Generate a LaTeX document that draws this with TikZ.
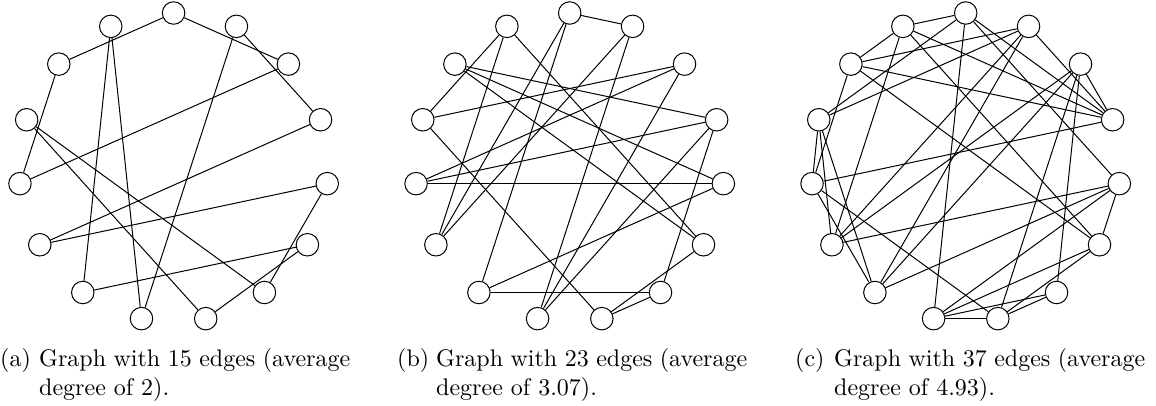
\documentclass[tikz,border=0pt]{standalone}
\usepackage{graphicx}
\begin{document}
\begin{tikzpicture}[x=1pt,y=-1pt,
  vtx/.style={circle,draw,line width=1pt,minimum size=22.5pt,inner sep=0pt},
  edg/.style={line width=1pt},
  captxt/.style={anchor=base west,inner sep=0pt}]
\useasboundingbox (0,0) rectangle (1156,405);
\foreach \g/\cx in {a/173.6,b/569.7,c/965.7}{
  \foreach \i in {0,...,14}{
    \node[vtx] (\g\i) at ({\cx+154.5*cos(90-24*\i)},{167.5-154.5*sin(90-24*\i)}) {};
  }
}
% graph (a)
\foreach \u/\v in {13/0,0/2,1/3,1/8,14/8,14/9,13/11,11/2,12/6,12/7,10/3,10/4,9/5,4/6,5/7}
  \draw[edg] (a\u) -- (a\v);
% graph (b)
\foreach \u/\v in {0/1,0/10,0/9,14/12,14/10,14/5,13/3,13/4,13/5,12/2,12/7,2/11,2/8,1/8,1/10,3/11,3/6,3/8,11/4,9/4,9/6,7/6,7/5}
  \draw[edg] (b\u) -- (b\v);
% graph (c)
\foreach \u/\v in {14/0,14/13,14/10,14/3,14/5,13/1,13/3,13/5,13/11,12/1,12/11,12/10,12/9,11/3,11/9,11/7,10/1,10/2,10/4,9/1,9/2,9/4,8/0,8/4,8/5,8/6,8/7,7/2,7/6,7/5,6/2,5/4,2/3,1/3,0/3,0/4,12/0}
  \draw[edg] (c\u) -- (c\v);
% captions
\foreach \g/\x/\n/\d in {a/0/15/2,b/397/23/3.07,c/795/37/4.93}{
  \node[captxt] (l\g) at (\x,366.5) {\scalebox{2.4}{(\g)}};
  \node[captxt] (t\g) at (\x+39,366.5) {\scalebox{2.4}{\makebox[129.6pt][s]{Graph with \n\ edges (average}}};
  \node[captxt] (u\g) at (\x+39,395.5) {\scalebox{2.4}{degree of \d).}};
}
\end{tikzpicture}
\end{document}
